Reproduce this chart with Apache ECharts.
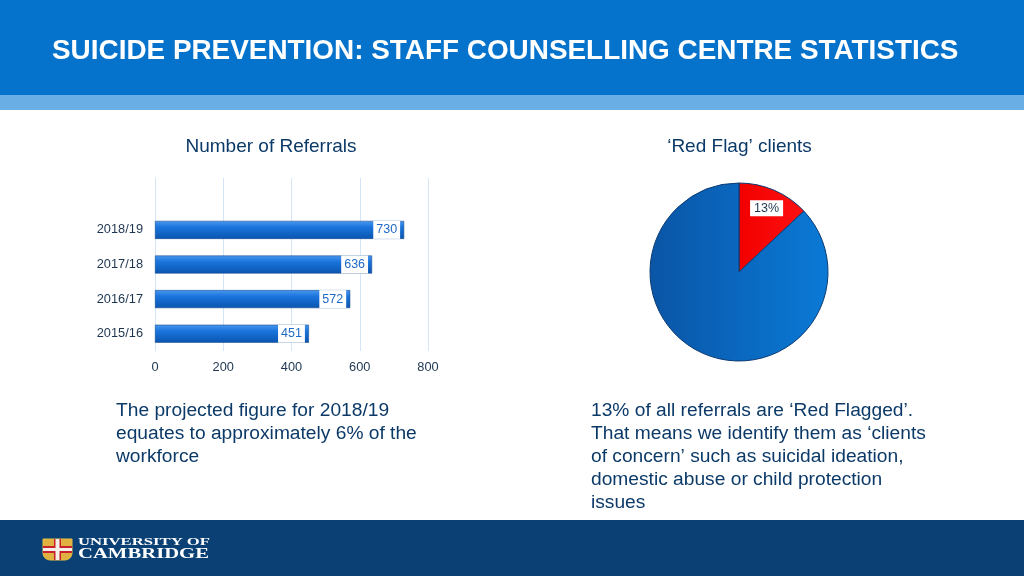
<!DOCTYPE html>
<html><head><meta charset="utf-8">
<script src="https://cdn.jsdelivr.net/npm/echarts@6/dist/echarts.min.js"></script>
<style>html,body{margin:0;padding:0;background:#fff}#c{width:1024px;height:576px}</style>
</head><body><div id="c"></div>
<script>
var categories = ['2015/16', '2016/17', '2017/18', '2018/19'];
var referrals = [451, 572, 636, 730];
var xTicks = [0, 200, 400, 600, 800];
var pieNames = ['Red Flag', 'Other'];
var pieValues = [13, 87];

var FONT = '"Liberation Sans", Arial, sans-serif';
var SERIF = '"Liberation Serif", "DejaVu Serif", serif';
var NAVY = '#0c3a68';
var chart = echarts.init(document.getElementById('c'));

var leftText = ['The projected figure for 2018/19', 'equates to approximately 6% of the', 'workforce'];
var rightText = ['13% of all referrals are \u2018Red Flagged\u2019.', 'That means we identify them as \u2018clients', 'of concern\u2019 such as suicidal ideation,', 'domestic abuse or child protection', 'issues'];

// fit logo text widths
var cv = document.createElement('canvas').getContext('2d');
function fitScale(txt, font, w){ cv.font = font; return w / cv.measureText(txt).width; }
var f1 = 'bold 11px ' + SERIF, f2 = 'bold 14px ' + SERIF;
var s1 = fitScale('UNIVERSITY OF', f1, 132), s2 = fitScale('CAMBRIDGE', f2, 131);

var graphics = [
  {type:'rect', shape:{x:0,y:0,width:1024,height:96}, style:{fill:'#0573cc'}, z:-10},
  {type:'rect', shape:{x:0,y:95,width:1024,height:15}, style:{fill:'#6aaee6'}, z:-10},
  {type:'rect', shape:{x:0,y:520,width:1024,height:56}, style:{fill:'#0b4074'}, z:-10},
  {type:'text', x:52, y:51.5, style:{text:'SUICIDE PREVENTION: STAFF COUNSELLING CENTRE STATISTICS', fill:'#fff', font:'bold 27.9px ' + FONT, textVerticalAlign:'middle'}},
  {type:'text', x:271, y:147, style:{text:'Number of Referrals', fill:NAVY, font:'19px ' + FONT, textAlign:'center', textVerticalAlign:'middle'}},
  {type:'text', x:739.5, y:147, style:{text:'\u2018Red Flag\u2019 clients', fill:NAVY, font:'19px ' + FONT, textAlign:'center', textVerticalAlign:'middle'}},
  {type:'text', x:116, y:399, style:{text:leftText.join('\n'), fill:NAVY, font:'19.2px ' + FONT, lineHeight:23}},
  {type:'text', x:591, y:399, style:{text:rightText.join('\n'), fill:NAVY, font:'19.2px ' + FONT, lineHeight:23}},
  // logo shield
  {type:'rect', shape:{x:43,y:539,width:29,height:21, r:[0,0,7,7]}, style:{fill:'#e0b040', stroke:'#e8c040', lineWidth:1}},
  {type:'rect', shape:{x:43,y:546,width:29,height:7}, style:{fill:'#c8202c'}},
  {type:'rect', shape:{x:54,y:539,width:7,height:21}, style:{fill:'#c8202c'}},
  {type:'rect', shape:{x:55.5,y:539,width:4,height:21}, style:{fill:'#f4f0e8'}},
  {type:'rect', shape:{x:43,y:548,width:29,height:3}, style:{fill:'#f4f0e8'}},
  {type:'text', x:78, y:548, scaleX:s1, originX:0, originY:0, style:{text:'UNIVERSITY OF', fill:'#fff', font:f1, textVerticalAlign:'bottom'}},
  {type:'text', x:78, y:561, scaleX:s2, originX:0, originY:0, style:{text:'CAMBRIDGE', fill:'#fff', font:f2, textVerticalAlign:'bottom'}}
];

var barGrad = new echarts.graphic.LinearGradient(0,0,0,1,[
  {offset:0, color:'#4a98ee'},{offset:0.35, color:'#1a74dc'},{offset:1, color:'#0a55b0'}]);
var blueGrad = new echarts.graphic.LinearGradient(0,0,1,0,[
  {offset:0, color:'#0a55a6'},{offset:1, color:'#0a7ad6'}]);
var redGrad = new echarts.graphic.LinearGradient(0,0,1,0,[
  {offset:0, color:'#f20000'},{offset:1, color:'#ff1010'}]);

chart.setOption({
  animation:false,
  textStyle:{fontFamily:FONT},
  graphic:graphics,
  grid:{left:155, right:596, top:178, bottom:225, containLabel:false},
  xAxis:{type:'value', min:0, max:800, interval:200,
    axisLine:{show:false}, axisTick:{show:false},
    splitLine:{show:true, lineStyle:{color:'#d3e5f7', width:1}},
    axisLabel:{color:'#1d3550', fontSize:12.8, margin:10,
      formatter:function(v){return xTicks.indexOf(v)>=0 ? String(v) : '';}}},
  yAxis:{type:'category', data:categories, max:4,
    axisLine:{show:true, lineStyle:{color:'#d3e5f7'}}, axisTick:{show:false},
    axisLabel:{color:'#1d3550', fontSize:12.8, margin:12,
      formatter:function(v){return v==null?'':v;}}},
  series:[
    {type:'bar', data:referrals, barWidth:18,
      itemStyle:{color:barGrad, borderColor:'#0a3f80', borderWidth:0.5},
      label:{show:true, position:'insideRight', distance:4, color:'#1e6ac4', fontSize:12.5,
        backgroundColor:'#fff', padding:[3,3,2,3]}},
    {type:'pie', center:[739,272], radius:[0,89], startAngle:90, clockwise:true,
      data:[
        {name:pieNames[0], value:pieValues[0], itemStyle:{color:redGrad}},
        {name:pieNames[1], value:pieValues[1], itemStyle:{color:blueGrad}}
      ],
      itemStyle:{borderColor:'#0a3a72', borderWidth:1},
      label:{show:false}, labelLine:{show:false}, silent:true},
    {type:'pie', center:[739,272], radius:[44,89], startAngle:90, clockwise:true, silent:true,
      data:[
        {name:pieNames[0], value:pieValues[0],
          label:{show:true, position:'inside', formatter:'{c}%', color:'#1d3550', fontSize:12.5,
            backgroundColor:'#fff', padding:[2,4,1,4]}},
        {name:pieNames[1], value:pieValues[1], label:{show:false}}
      ],
      itemStyle:{color:'rgba(0,0,0,0)'}, labelLine:{show:false}}
  ]
});
</script></body></html>
